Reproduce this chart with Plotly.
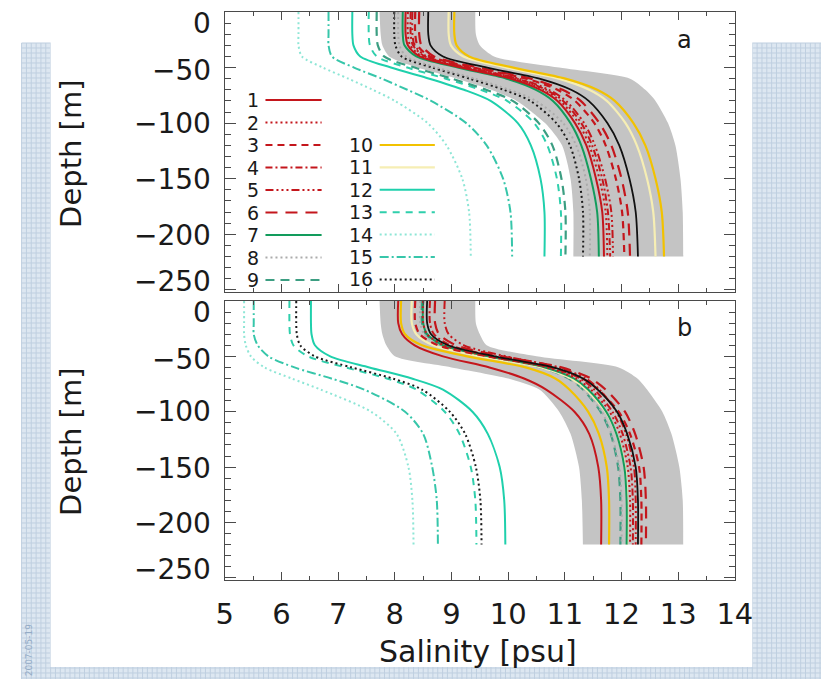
import plotly.graph_objects as go

W, H = 839, 679

# ---------------- data ----------------
depth = [0, -20, -30, -40, -50, -60, -70, -80, -100, -120, -150, -180, -220]

series_labels = ["1", "2", "3", "4", "5", "6", "7", "8", "9",
                 "10", "11", "12", "13", "14", "15", "16"]
series_colors = ["#c4161c", "#c4161c", "#c4161c", "#c4161c", "#c4161c", "#c4161c",
                 "#129c5c", "#ababab", "#3c9e82", "#f2c200", "#f6eeb4",
                 "#1fd0ac", "#2fcfac", "#8ee6d6", "#37c6aa", "#1a1a1a"]
series_dash = ["solid", "2px,3px", "7px,5px", "7px,3px,2px,3px",
               "8px,3px,2px,3px,2px,3px,2px,3px", "12px,8px", "solid", "2px,3px",
               "9px,6px", "solid", "solid", "solid", "7px,6px", "2px,3px",
               "9px,3px,2px,3px", "2px,3px"]
series_width = [2, 2, 2.2, 2, 2, 2.2, 2, 2, 2.2, 2.2, 2.2, 2, 2, 2, 2, 2]

# panel a
a1 = [8.19, 8.19, 8.23, 8.44, 9.17, 10.05, 10.57, 10.87, 11.18, 11.38, 11.55, 11.66, 11.69]
a2 = [8.23, 8.23, 8.27, 8.48, 9.22, 10.10, 10.62, 10.92, 11.24, 11.43, 11.61, 11.72, 11.75]
a3 = [8.36, 8.36, 8.40, 8.62, 9.39, 10.32, 10.87, 11.18, 11.52, 11.72, 11.90, 12.01, 12.05]
a4 = [8.28, 8.28, 8.32, 8.53, 9.27, 10.15, 10.67, 10.97, 11.29, 11.48, 11.66, 11.76, 11.80]
a5 = [8.31, 8.31, 8.35, 8.56, 9.30, 10.19, 10.72, 11.02, 11.34, 11.53, 11.71, 11.82, 11.85]
a6 = [8.43, 8.43, 8.47, 8.69, 9.47, 10.40, 10.96, 11.28, 11.61, 11.82, 12.00, 12.11, 12.15]
a7 = [8.14, 8.14, 8.17, 8.38, 9.11, 9.97, 10.49, 10.79, 11.10, 11.29, 11.46, 11.57, 11.60]
a8 = [8.06, 8.06, 8.08, 8.20, 8.74, 9.41, 10.02, 10.49, 10.97, 11.20, 11.37, 11.44, 11.44]
a9 = [7.68, 7.68, 7.70, 7.81, 8.35, 9.01, 9.61, 10.08, 10.54, 10.78, 10.94, 11.01, 11.01]
a10 = [9.05, 9.05, 9.09, 9.31, 10.09, 11.01, 11.57, 11.88, 12.21, 12.42, 12.60, 12.71, 12.75]
a11 = [8.95, 8.95, 8.99, 9.21, 9.97, 10.89, 11.43, 11.74, 12.07, 12.27, 12.45, 12.56, 12.60]
a12 = [7.25, 7.25, 7.27, 7.39, 7.93, 8.61, 9.22, 9.69, 10.17, 10.40, 10.57, 10.64, 10.64]
a13 = [7.54, 7.54, 7.56, 7.68, 8.22, 8.90, 9.51, 9.98, 10.46, 10.69, 10.86, 10.93, 10.93]
a14 = [6.30, 6.30, 6.30, 6.36, 6.73, 7.18, 7.61, 8.00, 8.58, 8.91, 9.19, 9.31, 9.34]
a15 = [6.83, 6.83, 6.83, 6.89, 7.28, 7.77, 8.22, 8.64, 9.26, 9.62, 9.91, 10.04, 10.07]
a16 = [7.99, 7.99, 8.01, 8.12, 8.66, 9.32, 9.92, 10.39, 10.85, 11.09, 11.25, 11.32, 11.32]
a_obs = [8.59, 8.59, 8.63, 8.85, 9.63, 10.55, 11.11, 11.42, 11.75, 11.96, 12.14, 12.25, 12.29]
a_env_lo = [7.73, 7.75, 7.78, 7.90, 8.40, 9.10, 9.70, 10.15, 10.65, 10.95, 11.10, 11.15, 11.15]
a_env_hi = [9.42, 9.43, 9.50, 9.75, 10.90, 12.15, 12.42, 12.60, 12.82, 12.95, 13.04, 13.08, 13.09]

# panel b
b1 = [8.06, 8.06, 8.13, 8.35, 8.85, 9.67, 10.28, 10.67, 11.17, 11.43, 11.59, 11.64, 11.64]
b2 = [8.50, 8.50, 8.57, 8.87, 9.67, 10.69, 11.20, 11.46, 11.79, 11.97, 12.11, 12.15, 12.15]
b3 = [8.36, 8.36, 8.44, 8.76, 9.64, 10.75, 11.31, 11.59, 11.95, 12.15, 12.31, 12.35, 12.35]
b4 = [8.62, 8.62, 8.69, 8.98, 9.77, 10.77, 11.27, 11.52, 11.84, 12.02, 12.16, 12.20, 12.20]
b5 = [8.88, 8.88, 8.95, 9.22, 9.96, 10.90, 11.37, 11.61, 11.91, 12.08, 12.22, 12.25, 12.25]
b6 = [8.71, 8.71, 8.78, 9.08, 9.90, 10.94, 11.46, 11.72, 12.06, 12.24, 12.39, 12.43, 12.43]
b7 = [8.50, 8.50, 8.57, 8.86, 9.65, 10.65, 11.16, 11.41, 11.73, 11.91, 12.05, 12.09, 12.09]
b8 = [8.45, 8.45, 8.52, 8.81, 9.59, 10.58, 11.08, 11.33, 11.65, 11.82, 11.96, 12.00, 12.00]
b9 = [8.48, 8.48, 8.55, 8.83, 9.60, 10.58, 11.07, 11.32, 11.63, 11.81, 11.94, 11.98, 11.98]
b10 = [8.11, 8.11, 8.18, 8.48, 9.28, 10.31, 10.83, 11.08, 11.41, 11.60, 11.74, 11.78, 11.78]
b11 = [8.30, 8.30, 8.38, 8.68, 9.52, 10.58, 11.11, 11.38, 11.72, 11.91, 12.06, 12.10, 12.10]
b12 = [6.52, 6.52, 6.53, 6.59, 6.86, 7.55, 8.30, 8.85, 9.37, 9.64, 9.85, 9.93, 9.95]
b13 = [6.14, 6.14, 6.15, 6.21, 6.47, 7.13, 7.86, 8.38, 8.88, 9.14, 9.34, 9.42, 9.44]
b14 = [5.34, 5.34, 5.34, 5.37, 5.46, 5.70, 6.18, 6.69, 7.58, 8.03, 8.24, 8.31, 8.33]
b15 = [5.51, 5.51, 5.51, 5.58, 5.77, 6.23, 6.88, 7.46, 8.18, 8.50, 8.66, 8.74, 8.76]
b16 = [6.26, 6.26, 6.27, 6.33, 6.59, 7.24, 7.96, 8.48, 8.97, 9.24, 9.43, 9.51, 9.53]
b_obs = [8.57, 8.57, 8.64, 8.94, 9.76, 10.80, 11.32, 11.58, 11.92, 12.10, 12.25, 12.29, 12.29]
b_env_lo = [7.73, 7.75, 7.78, 7.85, 8.00, 9.00, 10.00, 10.55, 10.90, 11.10, 11.25, 11.30, 11.32]
b_env_hi = [9.42, 9.43, 9.50, 9.62, 10.50, 11.95, 12.28, 12.45, 12.72, 12.88, 13.02, 13.08, 13.09]

xtick_vals = [5, 6, 7, 8, 9, 10, 11, 12, 13, 14]
ytick_vals = [0, -50, -100, -150, -200, -250]
ytick_text = ["0", "\u221250", "\u2212100", "\u2212150", "\u2212200", "\u2212250"]


# ---------------- helpers (pixel -> paper) ----------------
def fx(p):
    return p / W


def fy(p):
    return 1 - p / H


FONT = "DejaVu Sans"
AXC = "#4a4a4a"

fig = go.Figure()

panels = [
    ("x", "y", [a1, a2, a3, a4, a5, a6, a7, a8, a9, a10, a11, a12, a13, a14, a15, a16],
     a_obs, a_env_lo, a_env_hi),
    ("x2", "y2", [b1, b2, b3, b4, b5, b6, b7, b8, b9, b10, b11, b12, b13, b14, b15, b16],
     b_obs, b_env_lo, b_env_hi),
]

draw_order = [13, 14, 12, 11, 8, 15, 7, 10, 6, 9, 0, 1, 3, 4, 2, 5]

for xa, ya, series, obs, lo, hi in panels:
    # closed envelope polygon (corner points repeated to keep the flat bottom)
    env_x = lo + [lo[-1]] + [hi[-1]] + hi[::-1]
    env_y = depth + [depth[-1]] + [depth[-1]] + depth[::-1]
    fig.add_trace(go.Scatter(
        x=env_x, y=env_y, mode="lines", fill="toself",
        fillcolor="#c4c4c4", line=dict(width=0, shape="spline", smoothing=0.7),
        xaxis=xa, yaxis=ya, hoverinfo="skip", showlegend=False))
    for i in draw_order:
        fig.add_trace(go.Scatter(
            x=series[i], y=depth, mode="lines", name=series_labels[i],
            line=dict(color=series_colors[i], dash=series_dash[i],
                      width=series_width[i], shape="spline", smoothing=0.8),
            xaxis=xa, yaxis=ya, showlegend=False))
    fig.add_trace(go.Scatter(
        x=obs, y=depth, mode="lines", name="obs",
        line=dict(color="#111111", width=1.8, shape="spline", smoothing=0.8),
        xaxis=xa, yaxis=ya, showlegend=False))

xcommon = dict(range=[5, 14], showline=True, linecolor=AXC, linewidth=1.2,
               mirror="allticks", ticks="inside", ticklen=8, tickwidth=1,
               tickcolor=AXC, tickvals=xtick_vals,
               minor=dict(dtick=0.5, tick0=5, ticklen=4, ticks="inside", tickcolor=AXC),
               showgrid=False, zeroline=False, fixedrange=True)
ycommon = dict(range=[-252, 0], showline=True, linecolor=AXC, linewidth=1.2,
               mirror="allticks", ticks="inside", ticklen=11, tickwidth=1,
               tickcolor=AXC, tickvals=ytick_vals, showticklabels=False,
               minor=dict(dtick=10, tick0=0, ticklen=6, ticks="inside", tickcolor=AXC),
               showgrid=False, zeroline=False, fixedrange=True)

fig.update_layout(
    width=W, height=H, margin=dict(l=0, r=0, t=0, b=0),
    paper_bgcolor="white", plot_bgcolor="rgba(0,0,0,0)",
    font=dict(family=FONT, color="#1a1a1a"),
    xaxis=dict(xcommon, domain=[fx(223), fx(750)], anchor="y", showticklabels=False),
    yaxis=dict(ycommon, domain=[fy(292), fy(12)], anchor="x"),
    xaxis2=dict(xcommon, domain=[fx(223), fx(750)], anchor="y2", showticklabels=True,
                tickfont=dict(size=29, family=FONT, color="#1a1a1a"),
                ticklabelstandoff=8),
    yaxis2=dict(ycommon, domain=[fy(580), fy(301)], anchor="x2"),
)

# ---------------- background (grid strips + white card) ----------------
shapes = []
shapes.append(dict(type="rect", xref="paper", yref="paper", layer="below",
                   x0=fx(13), x1=fx(839), y0=fy(679), y1=fy(43),
                   fillcolor="#dde7f1", line=dict(width=0)))
path = []
gx = 13
while gx <= 839:
    path.append("M%.5f,%.5f L%.5f,%.5f" % (fx(gx), fy(43), fx(gx), fy(679)))
    gx += 5
gy = 43
while gy <= 679:
    path.append("M%.5f,%.5f L%.5f,%.5f" % (fx(13), fy(gy), fx(839), fy(gy)))
    gy += 5
shapes.append(dict(type="path", xref="paper", yref="paper", layer="below",
                   path=" ".join(path), line=dict(color="#bfcfe0", width=1)))
shapes.append(dict(type="rect", xref="paper", yref="paper", layer="below",
                   x0=fx(43), x1=fx(768), y0=fy(667), y1=fy(0),
                   fillcolor="white", line=dict(width=0)))

annotations = []

# legend drawn inside panel a: number on the left, line sample on the right
for i, lab in enumerate(series_labels):
    if i < 9:
        ry = 100 + 22.5 * i
        tx, l0, l1 = 259, 265, 323
    else:
        ry = 145 + 22.4 * (i - 9)
        tx, l0, l1 = 377, 383, 440
    shapes.append(dict(type="line", xref="paper", yref="paper",
                       x0=fx(l0), x1=fx(l1), y0=fy(ry), y1=fy(ry),
                       line=dict(color=series_colors[i], dash=series_dash[i],
                                 width=series_width[i])))
    annotations.append(dict(text=lab, xref="paper", yref="paper", x=fx(tx), y=fy(ry),
                            xanchor="right", yanchor="middle", showarrow=False,
                            borderpad=0,
                            font=dict(size=19, family=FONT, color="#1a1a1a")))

# y tick labels (first / last nudged inward as in the original figure)
label_shift = [-11, -3, 0, -1, -1, 8]
for yref in ("y", "y2"):
    for v, t, s in zip(ytick_vals, ytick_text, label_shift):
        annotations.append(dict(text=t, xref="paper", yref=yref, x=fx(210), y=v,
                                xanchor="right", yanchor="middle", yshift=s,
                                showarrow=False, borderpad=0,
                                font=dict(size=28, family=FONT, color="#1a1a1a")))

# axis titles
for cy in (154, 442):
    annotations.append(dict(text="Depth [m]", xref="paper", yref="paper",
                            x=fx(64), y=fy(cy), textangle=-90, showarrow=False,
                            xanchor="center", yanchor="middle",
                            font=dict(size=29, family=FONT, color="#1a1a1a")))
annotations.append(dict(text="Salinity [psu]", xref="paper", yref="paper",
                        x=fx(485), y=fy(651), showarrow=False,
                        xanchor="center", yanchor="middle",
                        font=dict(size=30, family=FONT, color="#1a1a1a")))

# panel letters
for txt, cy in (("a", 40), ("b", 328)):
    annotations.append(dict(text=txt, xref="paper", yref="paper", x=fx(698), y=fy(cy),
                            showarrow=False, xanchor="center", yanchor="middle",
                            font=dict(size=24, family=FONT, color="#1a1a1a")))

# date stamp
annotations.append(dict(text="2007-05-19", xref="paper", yref="paper",
                        x=fx(21), y=fy(650), textangle=-90, showarrow=False,
                        xanchor="center", yanchor="middle", borderpad=0,
                        font=dict(size=9, family=FONT, color="#93abc6")))

fig.update_layout(shapes=shapes, annotations=annotations)

fig.write_html(
    "out.html",
    config={"displayModeBar": False},
    post_script="document.body.style.margin='0';document.body.style.padding='0';"
                "document.body.style.overflow='hidden';",
)
